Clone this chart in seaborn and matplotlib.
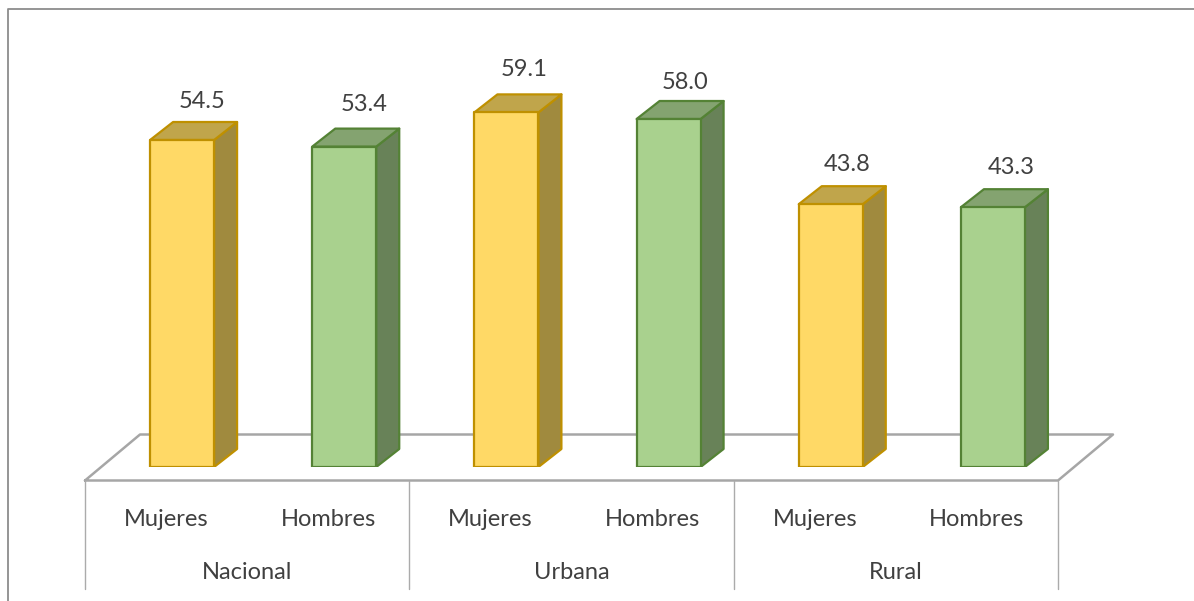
#!/usr/bin/env python3
import matplotlib
matplotlib.use("Agg")
import matplotlib.pyplot as plt
from matplotlib.lines import Line2D
from matplotlib.patches import Polygon
import pandas as pd
import seaborn as sns

AREAS = ["Nacional", "Urbana", "Rural"]
SEXES = ["Mujeres", "Hombres"]
MUJERES = [54.5, 59.1, 43.8]
HOMBRES = [53.4, 58.0, 43.3]

# face, edge, side, top of the fake 3D columns
STYLE = {
    "Mujeres": ("#FFD966", "#BF9000", "#A08A3E", "#C0A54B"),
    "Hombres": ("#A9D18E", "#548235", "#688258", "#84A370"),
}
# value label offset from the column top in px, the labels were hand placed
LABEL_OFFSET = {
    "Mujeres": [(19.5, 38.5), (17.5, 42.5), (16.5, 39.5)],
    "Hombres": [(19.5, 42.5), (16.5, 36.5), (18.5, 39.5)],
}
TEXT = "#404040"
FLOOR = "#A6A6A6"
W, H = 1194, 601

# pixel geometry of the plot, the axes is fitted so 1 unit = 6 px
LEFT, RIGHT, BASE = 85, 1058, 467
PX_X = (RIGHT - LEFT) / 6
PX_Y = 6.0
DEPTH_X = 23 / PX_X
DEPTH_Y = 18 / PX_Y
# columns stand in the middle of the floor's depth, not above their labels
BAR_SHIFT = 16 / PX_X


def main():
    rows = []
    for i, area in enumerate(AREAS):
        rows.append([f"{area} M", "Mujeres", MUJERES[i]])
        rows.append([f"{area} H", "Hombres", HOMBRES[i]])
    df = pd.DataFrame(rows, columns=["pos", "sex", "value"])

    sns.set_style("white")
    plt.rcParams["font.family"] = ["Lato", "DejaVu Sans"]

    fig = plt.figure(figsize=(W / 100, H / 100), dpi=100, facecolor="white")
    ax = fig.add_axes([LEFT / W, (H - BASE) / H, (RIGHT - LEFT) / W, BASE / H])
    ax.patch.set_alpha(0)

    sns.barplot(
        data=df, x="pos", y="value", hue="sex", hue_order=SEXES,
        palette={s: STYLE[s][0] for s in SEXES},
        dodge=False, width=64 / PX_X, legend=False, ax=ax,
        edgecolor="none", saturation=1,
    )
    ax.set_xlim(-0.5, 5.5)
    ax.set_ylim(0, BASE / PX_Y)
    ax.set_xlabel("")
    ax.set_ylabel("")
    sns.despine(ax=ax, left=True, bottom=True, top=True, right=True)
    ax.set_yticks([])

    # outer frame, only top and left are visible in the picture
    fig.add_artist(Line2D([7.5 / W, 7.5 / W, 1], [0, 1 - 8.5 / H, 1 - 8.5 / H],
                          color="#8C8C8C", lw=1.3))

    # floor of the 3D plot
    front = -13.5 / PX_Y
    back = 32.5 / PX_Y
    off = 55 / PX_X
    ax.plot([-0.5, -0.5 + off, 5.5 + off, 5.5, -0.5],
            [front, back, back, front, front],
            color=FLOOR, lw=1.8, clip_on=False, zorder=0.5)

    # separators between the two label levels' groups
    sep_bottom = -122 / PX_Y
    for x in [-0.5, 1.5, 3.5, 5.5]:
        ax.plot([x, x], [front, sep_bottom], color="#ABABAB", lw=1.0,
                clip_on=False, zorder=0.5)

    for sex, cont in zip(SEXES, ax.containers):
        face, edge, side, top = STYLE[sex]
        for bar, (dx, dy) in zip(cont, LABEL_OFFSET[sex]):
            x0 = bar.get_x() + BAR_SHIFT
            x1 = x0 + bar.get_width()
            h = bar.get_height()
            side_pts = [(x1, 0), (x1 + DEPTH_X, DEPTH_Y), (x1 + DEPTH_X, h + DEPTH_Y), (x1, h)]
            top_pts = [(x0, h), (x0 + DEPTH_X, h + DEPTH_Y), (x1 + DEPTH_X, h + DEPTH_Y), (x1, h)]
            ax.add_patch(Polygon(side_pts, fc=side, ec=edge, lw=1.6, joinstyle="round", zorder=2))
            ax.add_patch(Polygon(top_pts, fc=top, ec=edge, lw=1.6, joinstyle="round", zorder=2))
            ax.add_patch(Polygon([(x0, 0), (x0, h), (x1, h), (x1, 0)], fc=face, ec=edge,
                                 lw=1.6, joinstyle="round", zorder=3))
            bar.set_visible(False)
            ax.annotate(f"{h:.1f}", xy=((x0 + x1) / 2, h),
                        xytext=(dx * 0.72, dy * 0.72), textcoords="offset points",
                        ha="center", va="center", fontsize=17, color=TEXT)

    # two level category axis
    ax.set_xticks(range(6))
    ax.set_xticklabels(SEXES * 3, fontsize=17, color=TEXT)
    ax.tick_params(axis="x", length=0, pad=30)
    for i, area in enumerate(AREAS):
        ax.annotate(area, xy=(2 * i + 0.5, 0), xycoords="data",
                    xytext=(0, -105.5 * 0.72), textcoords="offset points",
                    ha="center", va="center", fontsize=17, color=TEXT)

    fig.savefig("out.png", dpi=100, facecolor="white")
    plt.close()


if __name__ == "__main__":
    main()
